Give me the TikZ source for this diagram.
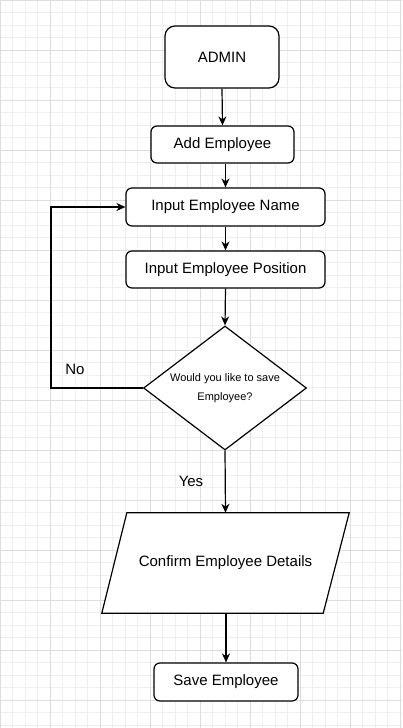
\documentclass[tikz,border=0pt]{standalone}
\usepackage{fontspec}
\setmainfont{Liberation Sans}
\usetikzlibrary{arrows.meta,shapes.geometric,calc}
\definecolor{gridminor}{HTML}{EFEFEF}
\definecolor{gridmajor}{HTML}{DDDDDD}
\begin{document}
\begin{tikzpicture}[x=1pt,y=-1pt,
  box/.style={draw=black,line width=1.2pt,rounded corners=6pt,fill=white,inner sep=0pt,
    font=\fontsize{15}{18}\selectfont,align=center},
  arr/.style={draw=black,line width=1.2pt,-{Stealth[length=9pt,width=8pt]}},
  lbl/.style={inner sep=0pt,font=\fontsize{15}{18}\selectfont}]
\useasboundingbox (0,0) rectangle (402,728);
\fill[white] (0,0) rectangle (402,728);
% grid
\foreach \i in {0,...,32} \draw[gridminor,line width=0.8pt] (\i*12.5,0) -- (\i*12.5,728);
\foreach \j in {0,...,58} \draw[gridminor,line width=0.8pt] (0,\j*12.5) -- (402,\j*12.5);
\foreach \i in {0,...,8} \draw[gridmajor,line width=0.8pt] (\i*50,0) -- (\i*50,728);
\foreach \j in {0,...,14} \draw[gridmajor,line width=0.8pt] (0,\j*50) -- (402,\j*50);
% nodes
\node[box,rounded corners=10pt,minimum width=114pt,minimum height=62pt] (admin) at (222,57) {ADMIN};
\node[box,minimum width=143pt,minimum height=37pt] (add) at (222.5,144.5) {Add Employee};
\node[box,minimum width=199pt,minimum height=38pt] (name) at (225.5,207) {Input Employee Name};
\node[box,minimum width=199pt,minimum height=37pt] (pos) at (225.5,269.5) {Input Employee Position};
\node[draw=black,line width=1.2pt,fill=white,diamond,aspect=1.31,inner sep=0pt,
  minimum width=163pt,minimum height=124pt,align=center,
  font=\fontsize{11}{19}\selectfont] (dec) at (225,388) {Would you like to save\\Employee?};
\node[inner sep=0pt,minimum width=247pt,minimum height=100pt] (conf) at (225.5,563) {};
\draw[line width=1.2pt,fill=white] ([xshift=25pt]conf.north west) -- (conf.north east)
  -- ([xshift=-26pt]conf.south east) -- (conf.south west) -- cycle;
\node[inner sep=0pt,font=\fontsize{15}{18}\selectfont] (conftext) at (conf.center) {Confirm Employee Details};
\node[box,minimum width=144pt,minimum height=38pt] (save) at (226,682) {Save Employee};
\coordinate (loopc) at (51,388);
% labels
\node[lbl] (no) at (75,369) {No};
\node[lbl] (yes) at (191,481) {Yes};
% connectors
\draw[arr] (admin.south) -- (add.north);
\draw[arr] (add.south -| name.north) -- (name.north);
\draw[arr] (name.south) -- (pos.north);
\draw[arr] (pos.south) -- (dec.north);
\draw[arr] (dec.south) -- (conf.north);
\draw[arr] (conf.south -| save.north) -- (save.north);
\draw[arr] (dec.west) -- (loopc) |- (name.west);
\end{tikzpicture}
\end{document}
